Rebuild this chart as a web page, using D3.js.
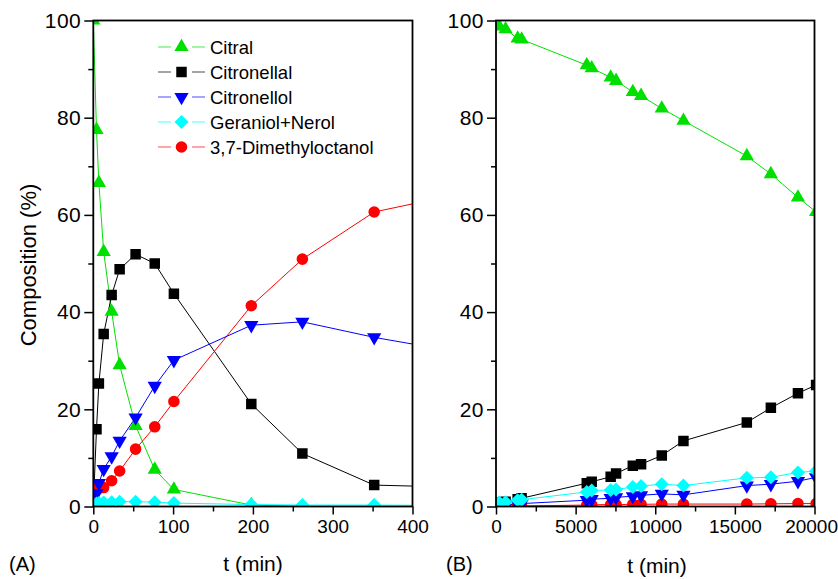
<!DOCTYPE html>
<html><head><meta charset="utf-8">
<script src="https://cdn.jsdelivr.net/npm/d3@7"></script>
<style>body{margin:0;background:#fff} text{font-family:Arial,"Liberation Sans",sans-serif;fill:#000}</style>
</head><body><svg id="c" width="838" height="579"></svg>
<script>
// ---------- data ----------
const seriesNames = ["Citral", "Citronellal", "Citronellol", "Geraniol+Nerol", "3,7-Dimethyloctanol"];
const seriesColors = ["#00e000", "#000000", "#0000ff", "#00ffff", "#ff0000"];

const timesA = [0, 4, 7, 13, 23, 33, 53, 77, 101, 198, 262, 352, 450];
const citralA = [100, 77.5, 66.6, 52.4, 40.1, 29.1, 16.6, 7.6, 3.5, 0.3, 0, 0, 0];
const citronellalA = [0, 15.9, 25.3, 35.5, 43.5, 48.8, 51.9, 50.0, 43.8, 21.1, 10.9, 4.4, 4.0];
const citronellolA = [0, 2.7, 4.8, 7.7, 10.3, 13.5, 18.3, 24.8, 30.1, 37.3, 38.0, 34.8, 32.0];
const geranNerolA = [0, 0.6, 0.7, 0.8, 0.9, 1.0, 1.0, 0.9, 0.7, 0.4, 0.3, 0.3, 0.2];
const dmoA = [0, 3.9, 3.7, 3.9, 5.3, 7.3, 11.8, 16.4, 21.6, 41.3, 50.9, 60.6, 64.0];

const timesB = [200, 600, 1360, 1610, 5700, 6010, 7200, 7540, 8590, 9110, 10410, 11770, 15750, 17260, 18960, 20100];
const citralB = [98.8, 98.2, 96.3, 96.1, 90.8, 90.2, 88.3, 87.6, 85.3, 84.5, 81.9, 79.4, 72.1, 68.4, 63.6, 60.6];
const citronellalB = [0.8, 1.0, 1.5, 1.7, 4.8, 5.1, 6.1, 6.8, 8.4, 8.7, 10.5, 13.5, 17.3, 20.3, 23.3, 25.0];
const citronellolB = [0.2, 0.3, 0.5, 0.6, 1.3, 1.5, 1.7, 1.9, 2.1, 2.3, 2.6, 2.4, 4.3, 4.6, 5.2, 6.0];
const geranNerolB = [0.8, 0.9, 1.3, 1.4, 3.0, 3.3, 3.4, 3.5, 4.0, 4.2, 4.6, 4.3, 5.9, 6.0, 7.0, 7.3];
const dmoB = [0, 0.05, 0.1, 0.1, 0.3, 0.35, 0.4, 0.4, 0.45, 0.45, 0.5, 0.5, 0.5, 0.55, 0.6, 0.6];

const yTicks = [0, 20, 40, 60, 80, 100];
const yMinorTicks = [10, 30, 50, 70, 90];
const xTicksA = [0, 100, 200, 300, 400];
const xMinorTicksA = [50, 150, 250, 350];
const xTicksB = [0, 5000, 10000, 15000, 20000];
const xMinorTicksB = [2500, 7500, 12500, 17500];

// ---------- drawing ----------
const svg = d3.select("#c");
const TOP = 20.5, BOTTOM = 506.5;
const FONT = "Arial, 'Liberation Sans', sans-serif";

const markerShapes = ["up", "square", "down", "diamond", "circle"];
function markerPath(kind) {
  if (kind === "up" || kind === "down") return d3.symbol(d3.symbolTriangle, 88)();
  if (kind === "square") return d3.symbol(d3.symbolSquare, 110)();
  if (kind === "circle") return d3.symbol(d3.symbolCircle, 105)();
  if (kind === "diamond") { const r = 7; return `M0,${-r}L${r},0L0,${r}L${-r},0Z`; }
}
function addMarker(g, kind, color, x, y) {
  g.append("path").attr("d", markerPath(kind))
    .attr("transform", `translate(${x},${y})` + (kind === "down" ? " rotate(180)" : ""))
    .attr("fill", color).attr("stroke", "none");
}

function panel(id, x0, x1, domain, ticks, minor, times, series, drawOrder) {
  const x = d3.scaleLinear().domain(domain).range([x0, x1]);
  const y = d3.scaleLinear().domain([0, 100]).range([BOTTOM, TOP]);
  const clipId = "clip" + id;
  svg.append("clipPath").attr("id", clipId).append("rect")
    .attr("x", x0).attr("y", TOP).attr("width", x1 - x0).attr("height", BOTTOM - TOP);
  const g = svg.append("g").attr("clip-path", `url(#${clipId})`);
  const line = d3.line().x(d => x(d[0])).y(d => y(d[1]));
  drawOrder.forEach(si => {
    const pts = times.map((t, i) => [t, series[si][i]]);
    g.append("path").attr("d", line(pts)).attr("fill", "none")
      .attr("stroke", seriesColors[si]).attr("stroke-width", 1);
  });
  drawOrder.forEach(si => {
    times.forEach((t, i) => addMarker(g, markerShapes[si], seriesColors[si], x(t), y(series[si][i])));
  });
  // axes
  const ax = svg.append("g").attr("class", "xaxis" + id).attr("transform", `translate(0,${BOTTOM})`)
    .call(d3.axisBottom(x).tickValues(ticks).tickSize(8).tickPadding(5).tickFormat(d3.format("d")));
  ax.selectAll("text").style("font-size", "19px");
  svg.append("g").attr("transform", `translate(0,${BOTTOM})`)
    .call(d3.axisBottom(x).tickValues(minor).tickSize(5).tickFormat(""));
  const ay = svg.append("g").attr("transform", `translate(${x0},0)`)
    .call(d3.axisLeft(y).tickValues(yTicks).tickSize(9).tickPadding(3).tickFormat(d3.format("d")));
  ay.selectAll("text").style("font-size", "21px").attr("letter-spacing", "0.5px");
  svg.append("g").attr("transform", `translate(${x0},0)`)
    .call(d3.axisLeft(y).tickValues(yMinorTicks).tickSize(5).tickFormat(""));
  svg.selectAll(".domain").remove();
  svg.selectAll(".tick line").attr("stroke", "#000").attr("stroke-width", 1.5);
  svg.selectAll(".tick text").style("font-family", FONT).attr("fill", "#000");
  // frame
  svg.append("rect").attr("x", x0).attr("y", TOP).attr("width", x1 - x0).attr("height", BOTTOM - TOP)
    .attr("fill", "none").attr("stroke", "#000").attr("stroke-width", 1.8);
  return ax;
}

const seriesA = [citralA, citronellalA, citronellolA, geranNerolA, dmoA];
const seriesB = [citralB, citronellalB, citronellolB, geranNerolB, dmoB];
const order = [0, 1, 4, 2, 3];
panel("A", 93.3, 412.5, [0, 400], xTicksA, xMinorTicksA, timesA, seriesA, order);
const axB = panel("B", 496, 814.5, [0, 20000], xTicksB, xMinorTicksB, timesB, seriesB, order);
axB.selectAll(".tick text").filter(d => d === 20000).attr("text-anchor", "end").attr("x", 23);

// titles
svg.append("text").attr("x", 253).attr("y", 571).attr("text-anchor", "middle").style("font-size", "21px").text("t (min)");
svg.append("text").attr("x", 657).attr("y", 573).attr("text-anchor", "middle").style("font-size", "21px").text("t (min)");
svg.append("text").attr("x", 9).attr("y", 571).style("font-size", "20px").text("(A)");
svg.append("text").attr("x", 446).attr("y", 571).style("font-size", "20px").text("(B)");
svg.append("text").attr("transform", "translate(36,265) rotate(-90)").attr("text-anchor", "middle")
  .style("font-size", "22px").text("Composition (%)");

// legend
const leg = svg.append("g");
seriesNames.forEach((name, i) => {
  const ly = 47 + i * 25;
  leg.append("line").attr("x1", 158).attr("x2", 205).attr("y1", ly).attr("y2", ly)
    .attr("stroke", seriesColors[i]).attr("stroke-width", 1).attr("opacity", 0.7);
  leg.append("rect").attr("x", 171).attr("y", ly - 7).attr("width", 21).attr("height", 14).attr("fill", "#fff");
  addMarker(leg, markerShapes[i], seriesColors[i], 181.5, ly);
  leg.append("text").attr("x", 210).attr("y", ly + 6.5).style("font-size", "18.5px").text(name);
});
</script></body></html>
